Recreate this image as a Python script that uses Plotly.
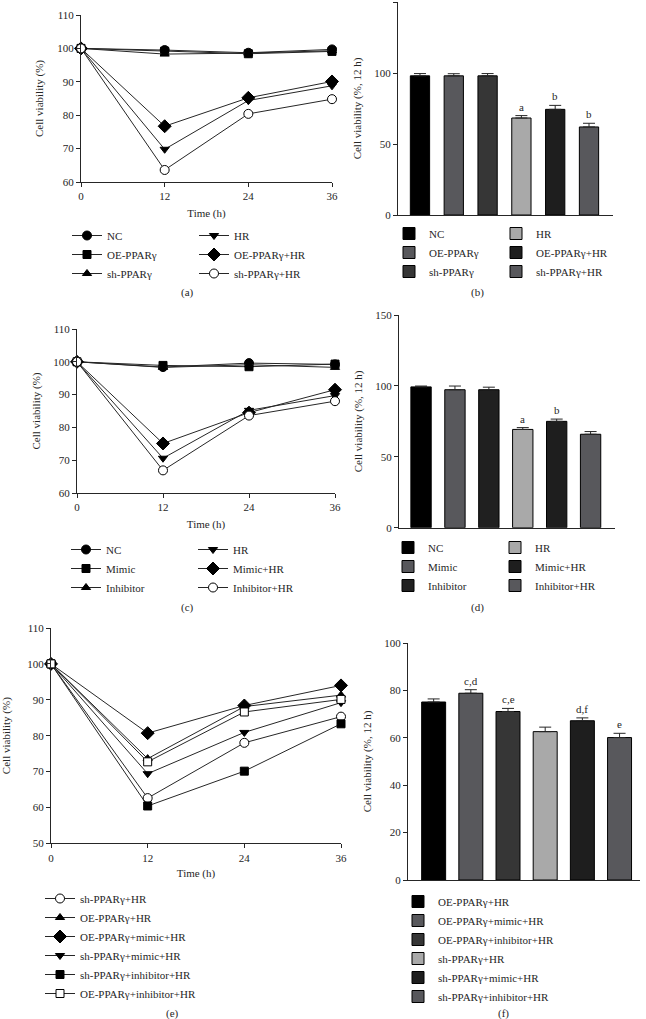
import plotly.graph_objects as go

W, H = 646, 1019
FONT = "Liberation Serif"
INK = "#262626"

# ---------------- data ----------------
time_h = [0, 12, 24, 36]

# panel (a)
a_names = ["NC", "OE-PPARγ", "sh-PPARγ", "HR", "OE-PPARγ+HR", "sh-PPARγ+HR"]
a_NC = [100, 99.5, 98.7, 99.7]
a_OE = [100, 99.2, 98.4, 99.1]
a_sh = [100, 98.3, 98.6, 99.3]
a_HR = [100, 69.8, 84.4, 88.8]
a_OEHR = [100, 76.7, 85.2, 90.1]
a_shHR = [100, 63.6, 80.4, 84.8]

# panel (b)
b_names = ["NC", "OE-PPARγ", "sh-PPARγ", "HR", "OE-PPARγ+HR", "sh-PPARγ+HR"]
b_vals = [98.0, 98.0, 98.0, 68.3, 74.4, 62.0]
b_err = [1.6, 1.5, 1.6, 1.7, 2.8, 2.6]
b_letters = ["", "", "", "a", "b", "b"]

# panel (c)
c_names = ["NC", "Mimic", "Inhibitor", "HR", "Mimic+HR", "Inhibitor+HR"]
c_NC = [100, 98.4, 99.6, 99.2]
c_Mimic = [100, 98.9, 98.5, 99.3]
c_Inh = [100, 98.3, 99.1, 98.3]
c_HR = [100, 70.6, 85.2, 89.7]
c_MimHR = [100, 75.1, 84.5, 91.5]
c_InhHR = [100, 66.9, 83.6, 88.0]

# panel (d)
d_names = ["NC", "Mimic", "Inhibitor", "HR", "Mimic+HR", "Inhibitor+HR"]
d_vals = [99.3, 97.3, 97.3, 69.3, 75.0, 65.9]
d_err = [0.6, 2.6, 1.8, 1.3, 1.6, 1.9]
d_letters = ["", "", "", "a", "b", ""]

# panel (e)
e_names = ["sh-PPARγ+HR", "OE-PPARγ+HR", "OE-PPARγ+mimic+HR",
           "sh-PPARγ+mimic+HR", "sh-PPARγ+inhibitor+HR", "OE-PPARγ+inhibitor+HR"]
e_shHR = [100, 62.6, 78.0, 85.3]
e_OEHR = [100, 73.6, 88.1, 91.3]
e_OEmimHR = [100, 80.7, 88.4, 94.0]
e_shmimHR = [100, 69.4, 80.9, 89.2]
e_shinhHR = [100, 60.4, 70.1, 83.3]
e_OEinhHR = [100, 72.7, 86.6, 90.1]

# panel (f)
f_names = ["OE-PPARγ+HR", "OE-PPARγ+mimic+HR", "OE-PPARγ+inhibitor+HR",
           "sh-PPARγ+HR", "sh-PPARγ+mimic+HR", "sh-PPARγ+inhibitor+HR"]
f_vals = [75.1, 78.8, 71.1, 62.6, 67.2, 60.1]
f_err = [1.3, 1.5, 1.3, 1.9, 1.2, 1.8]
f_letters = ["", "c,d", "c,e", "", "d,f", "e"]

captions = ["(a)", "(b)", "(c)", "(d)", "(e)", "(f)"]

# ---------------- styles ----------------
bar_colors_bf = ["#000000", "#58585c", "#363636", "#a9a9a9", "#1e1e1e", "#58585c"]
bar_colors_d = ["#000000", "#58585c", "#202020", "#a9a9a9", "#1e1e1e", "#58585c"]
sym_ac = [("circle", False), ("square", False), ("triangle-up", False),
          ("triangle-down", False), ("diamond", False), ("circle", True)]
sym_e = [("circle", True), ("triangle-up", False), ("diamond", False),
         ("triangle-down", False), ("square", False), ("square", True)]
msize = {"circle": 9, "square": 8, "triangle-up": 8, "triangle-down": 8, "diamond": 10}


def px(x):
    return x / W


def py(y):
    return 1 - y / H


fig = go.Figure()


def add_lines(series, names, syms, xa, ya, legends):
    for s, n, (sym, hollow), lg in zip(series, names, syms, legends):
        fig.add_trace(go.Scatter(
            x=time_h, y=s, name=n, mode="lines+markers", xaxis=xa, yaxis=ya,
            legend=lg, cliponaxis=False,
            line=dict(color=INK, width=1),
            marker=dict(symbol=sym, size=msize[sym],
                        color="white" if hollow else "black",
                        line=dict(color="black", width=1)),
        ))


def add_bars(vals, errs, names, colors, xa, ya, legends, width):
    for v, e, n, c, lg in zip(vals, errs, names, colors, legends):
        fig.add_trace(go.Bar(
            x=[n], y=[v], name=n, xaxis=xa, yaxis=ya, legend=lg, width=[width],
            marker=dict(color=c, line=dict(color="black", width=1)),
            error_y=dict(type="data", array=[e], arrayminus=[0], symmetric=False,
                         color=INK, thickness=1, width=6),
        ))


add_lines([a_NC, a_OE, a_sh, a_HR, a_OEHR, a_shHR], a_names, sym_ac, "x", "y",
          ["legend"] * 3 + ["legend2"] * 3)
add_bars(b_vals, b_err, b_names, bar_colors_bf, "x2", "y2",
         ["legend3"] * 3 + ["legend4"] * 3, 0.57)
add_lines([c_NC, c_Mimic, c_Inh, c_HR, c_MimHR, c_InhHR], c_names, sym_ac, "x3", "y3",
          ["legend5"] * 3 + ["legend6"] * 3)
add_bars(d_vals, d_err, d_names, bar_colors_d, "x4", "y4",
         ["legend7"] * 3 + ["legend8"] * 3, 0.6)
add_lines([e_shHR, e_OEHR, e_OEmimHR, e_shmimHR, e_shinhHR, e_OEinhHR], e_names, sym_e,
          "x5", "y5", ["legend9"] * 6)
add_bars(f_vals, f_err, f_names, bar_colors_bf, "x6", "y6", ["legend10"] * 6, 0.645)

annotations = []
for names, vals, errs, letters, xr, yr in [
        (b_names, b_vals, b_err, b_letters, "x2", "y2"),
        (d_names, d_vals, d_err, d_letters, "x4", "y4"),
        (f_names, f_vals, f_err, f_letters, "x6", "y6")]:
    for n, v, e, t in zip(names, vals, errs, letters):
        if t:
            annotations.append(dict(x=n, y=v + e, xref=xr, yref=yr, text=t,
                                    showarrow=False, yanchor="bottom", yshift=1,
                                    font=dict(family=FONT, size=11, color=INK)))

cap_pos = [(188, 292), (477, 292), (188, 607), (477, 607), (172, 1013), (503, 1013)]
for t, (cx, cy) in zip(captions, cap_pos):
    annotations.append(dict(x=px(cx), y=py(cy), xref="paper", yref="paper", text=t,
                            showarrow=False, xanchor="center", yanchor="middle",
                            font=dict(family=FONT, size=11, color=INK)))


def ax(**kw):
    base = dict(showgrid=False, zeroline=False, showline=True, linecolor=INK,
                linewidth=1, ticks="outside", ticklen=4, tickwidth=1, tickcolor=INK,
                automargin=False,
                tickfont=dict(family=FONT, size=11, color=INK))
    base.update(kw)
    return base


def title(t, standoff):
    return dict(text=t, font=dict(family=FONT, size=11, color=INK), standoff=standoff)


time_x = dict(range=[0, 36], tickvals=time_h)
bar_x = dict(type="category", showticklabels=False, ticks="")

layout = dict(
    width=W, height=H, margin=dict(l=0, r=0, t=0, b=0, autoexpand=False),
    paper_bgcolor="white", plot_bgcolor="white", barmode="overlay",
    font=dict(family=FONT, color=INK), annotations=annotations,
    xaxis=ax(domain=[px(81), px(332)], anchor="y", title=title("Time (h)", 8), **time_x),
    yaxis=ax(domain=[py(182), py(15)], anchor="x", range=[60, 110], dtick=10,
             title=title("Cell viability (%)", 11)),
    xaxis2=ax(domain=[px(398), px(613)], anchor="y2", range=[-0.65, 5.71], **bar_x),
    yaxis2=ax(domain=[py(215), py(2)], anchor="x2", range=[0, 150], dtick=50,
              title=title("Cell viability (%, 12 h)", 10)),
    xaxis3=ax(domain=[px(77), px(335)], anchor="y3", title=title("Time (h)", 8), **time_x),
    yaxis3=ax(domain=[py(493), py(329)], anchor="x3", range=[60, 110], dtick=10,
              title=title("Cell viability (%)", 10)),
    xaxis4=ax(domain=[px(399), px(615)], anchor="y4", range=[-0.65, 5.72], **bar_x),
    yaxis4=ax(domain=[py(527.7), py(315)], anchor="x4", range=[0, 150], dtick=50,
              title=title("Cell viability (%, 12 h)", 10)),
    xaxis5=ax(domain=[px(51), px(341)], anchor="y5", title=title("Time (h)", 6), **time_x),
    yaxis5=ax(domain=[py(843.3), py(628)], anchor="x5", range=[50, 110], dtick=10,
              title=title("Cell viability (%)", 14)),
    xaxis6=ax(domain=[px(408), px(640)], anchor="y6", range=[-0.69, 5.55], **bar_x),
    yaxis6=ax(domain=[py(880), py(643)], anchor="x6", range=[0, 100], dtick=20,
              title=title("Cell viability (%, 12 h)", 10)),
)

legend_pos = {
    "legend": (67, 221), "legend2": (194, 221),
    "legend3": (389, 219), "legend4": (496, 219),
    "legend5": (66, 535), "legend6": (193, 535),
    "legend7": (388, 533), "legend8": (495, 533),
    "legend9": (40, 884), "legend10": (398, 887),
}
for key, (lx, ly) in legend_pos.items():
    layout[key] = dict(x=px(lx), y=py(ly), xanchor="left", yanchor="top",
                       bgcolor="rgba(0,0,0,0)", borderwidth=0, tracegroupgap=0,
                       font=dict(family=FONT, size=11, color=INK),
                       itemclick=False, itemdoubleclick=False)

fig.update_layout(**layout)
fig.write_html("out.html",
               config={"displayModeBar": False},
               post_script="document.body.style.margin='0px';"
                           "document.body.style.padding='0px';")
